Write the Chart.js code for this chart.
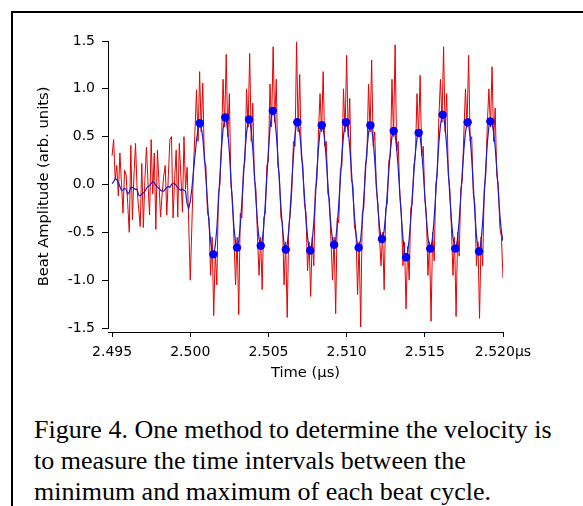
<!DOCTYPE html>
<html>
<head>
<meta charset="utf-8">
<script src="https://cdn.jsdelivr.net/npm/chart.js@4.4.1/dist/chart.umd.min.js"></script>
<style>
  html, body {
    margin: 0;
    padding: 0;
    background: #fff;
    width: 583px;
    height: 506px;
    overflow: hidden;
  }
  .frame {
    position: absolute;
    left: 11px;
    top: 11px;
    width: 700px;
    height: 600px;
    border-left: 2px solid #000;
    border-top: 2px solid #000;
  }
  #chart {
    position: absolute;
    left: 0;
    top: 0;
  }
  .caption {
    position: absolute;
    left: 34px;
    top: 414px;
    font-family: "Liberation Serif", "Times New Roman", serif;
    font-size: 26px;
    line-height: 31px;
    color: #000;
    white-space: nowrap;
  }
</style>
</head>
<body>
<div class="frame"></div>
<canvas id="chart" width="583" height="400"></canvas>
<div class="caption">
  Figure 4. One method to determine the velocity is<br>
  to measure the time intervals between the<br>
  minimum and maximum of each beat cycle.
</div>

<script>
// sampling grid of the recorded trace (µs)
const sampleStart = 2.495;
const sampleStep = 0.0001;

// raw beat signal (red)
const rawSignal = [
  0.30, 0.47, 0.05, 0.20, -0.12, 0.33, 0.02, -0.30, 0.15, 0.10,
  -0.20, -0.50, 0.41, -0.37, 0.10, 0.43, -0.05, -0.25, -0.44, 0.22,
  -0.45, 0.05, 0.39, 0.00, -0.32, 0.47, -0.10, 0.33, -0.47, 0.36,
  0.02, -0.34, -0.10, 0.08, 0.20, -0.32, 0.10, 0.47, 0.50, -0.35,
  0.05, 0.36, -0.34, 0.43, 0.10, -0.29, 0.50, -0.05, 0.18, -0.40,
  -1.00, -0.45, 0.15, 0.55, 0.99, 0.45, 1.18, 0.55, 1.06, 0.25,
  0.20, -0.30, -0.35, -0.95, -0.55, -1.37, -0.70, -1.05, -0.10, 0.00,
  0.45, 1.10, 0.60, 1.36, 0.50, 0.95, 0.00, -0.15, -0.60, -1.05,
  -0.55, -1.36, -0.30, -0.35, 0.15, 0.25, 1.00, 0.60, 1.37, 0.45,
  0.85, 0.05, -0.05, -0.55, -0.95, -0.55, -1.10, -0.35, -0.30, 0.20,
  0.25, 1.05, 0.60, 1.44, 0.65, 1.10, 0.20, 0.10, -0.35, -0.40,
  -1.05, -0.60, -1.39, -0.45, -0.30, -0.05, 0.45, 0.40, 1.49, 0.55,
  1.15, 0.30, 0.20, -0.20, -0.30, -0.90, -0.60, -1.17, -0.55, -0.85,
  -0.05, 0.05, 0.55, 0.95, 0.55, 1.18, 0.40, 0.45, -0.10, -0.15,
  -0.60, -1.00, -0.55, -1.35, -0.35, -0.40, 0.15, 0.20, 1.00, 0.55,
  1.35, 0.50, 0.90, 0.05, 0.00, -0.45, -0.50, -1.15, -0.60, -1.49,
  -0.30, -0.25, 0.20, 0.30, 1.05, 0.55, 1.30, 0.40, 0.55, -0.05,
  -0.20, -0.55, -0.85, -0.50, -1.10, -0.25, -0.20, 0.25, 0.30, 1.10,
  0.50, 1.46, 0.35, 0.45, -0.10, -0.30, -0.85, -0.60, -1.30, -0.65,
  -1.00, -0.25, -0.20, 0.20, 0.30, 0.95, 0.50, 1.14, 0.30, 0.40,
  -0.15, -0.30, -0.95, -0.60, -1.43, -0.50, -0.80, 0.00, 0.10, 0.70,
  1.10, 0.65, 1.44, 0.55, 0.95, 0.10, -0.05, -0.45, -0.95, -0.55,
  -1.38, -0.50, -0.75, -0.05, 0.05, 0.55, 1.00, 0.60, 1.35, 0.45,
  0.50, -0.10, -0.20, -0.85, -0.60, -1.40, -0.55, -0.85, -0.05, 0.10,
  0.65, 1.00, 0.60, 1.23, 0.45, 0.80, 0.10, 0.00, -0.45, -0.55,
  -0.98,
];

// smoothed signal (blue)
const smoothSignal = [
  0.01, 0.03, 0.06, 0.05, 0.02, -0.02, -0.06, -0.06, -0.04, -0.05,
  -0.10, -0.08, -0.03, -0.03, -0.04, -0.05, -0.05, -0.11, -0.12, -0.10,
  -0.09, -0.07, -0.04, -0.02, -0.01, 0.01, 0.03, 0.02, -0.01, -0.03,
  -0.04, -0.06, -0.07, -0.07, -0.05, -0.03, -0.02, -0.03, 0.00, 0.01,
  0.01, -0.01, -0.03, -0.05, -0.06, -0.05, -0.06, -0.07, -0.20, -0.25,
  -0.18, -0.05, 0.12, 0.30, 0.46, 0.58, 0.64, 0.60, 0.49, 0.30,
  0.07, -0.18, -0.41, -0.59, -0.70, -0.73, -0.64, -0.46, -0.19, 0.10,
  0.38, 0.58, 0.69, 0.68, 0.55, 0.34, 0.06, -0.22, -0.46, -0.61,
  -0.66, -0.59, -0.43, -0.19, 0.08, 0.34, 0.54, 0.66, 0.67, 0.57,
  0.37, 0.12, -0.16, -0.40, -0.57, -0.64, -0.59, -0.44, -0.20, 0.08,
  0.36, 0.59, 0.73, 0.77, 0.70, 0.53, 0.30, 0.03, -0.24, -0.46,
  -0.62, -0.68, -0.63, -0.48, -0.24, 0.04, 0.31, 0.52, 0.64, 0.64,
  0.54, 0.37, 0.13, -0.12, -0.36, -0.55, -0.67, -0.69, -0.59, -0.40,
  -0.14, 0.14, 0.38, 0.56, 0.63, 0.59, 0.46, 0.26, 0.01, -0.23,
  -0.44, -0.58, -0.63, -0.58, -0.42, -0.20, 0.06, 0.31, 0.51, 0.63,
  0.64, 0.56, 0.39, 0.16, -0.09, -0.33, -0.52, -0.64, -0.66, -0.57,
  -0.39, -0.14, 0.13, 0.37, 0.54, 0.62, 0.59, 0.46, 0.25, 0.00,
  -0.24, -0.44, -0.55, -0.56, -0.48, -0.31, -0.09, 0.15, 0.36, 0.50,
  0.56, 0.52, 0.38, 0.17, -0.09, -0.34, -0.56, -0.71, -0.76, -0.71,
  -0.57, -0.37, -0.12, 0.12, 0.34, 0.48, 0.54, 0.50, 0.35, 0.14,
  -0.12, -0.36, -0.55, -0.66, -0.66, -0.55, -0.35, -0.10, 0.18, 0.44,
  0.62, 0.72, 0.71, 0.60, 0.40, 0.15, -0.12, -0.37, -0.55, -0.66,
  -0.66, -0.56, -0.37, -0.13, 0.14, 0.37, 0.55, 0.64, 0.63, 0.50,
  0.27, -0.01, -0.29, -0.53, -0.67, -0.69, -0.59, -0.39, -0.11, 0.18,
  0.44, 0.61, 0.66, 0.64, 0.55, 0.39, 0.17, -0.08, -0.32, -0.50,
  -0.59,
];

// maxima and minima of each beat cycle (blue dots)
const peakTimes = [2.50061, 2.50224, 2.50376, 2.50528, 2.50685, 2.50841, 2.50996, 2.51152, 2.51301, 2.51461, 2.51614, 2.51774, 2.51919];
const peakValues = [0.64, 0.70, 0.68, 0.77, 0.65, 0.62, 0.65, 0.62, 0.56, 0.54, 0.73, 0.65, 0.66];
const troughTimes = [2.50148, 2.50299, 2.50451, 2.50611, 2.50767, 2.5092, 2.51077, 2.51226, 2.5138, 2.51535, 2.51695, 2.51847];
const troughValues = [-0.73, -0.66, -0.64, -0.68, -0.69, -0.63, -0.66, -0.57, -0.76, -0.67, -0.67, -0.70];

// axes
const xTicks = [2.495, 2.5, 2.505, 2.51, 2.515, 2.52];
const xTickLabels = ["2.495", "2.500", "2.505", "2.510", "2.515", "2.520\u00b5s"];
const yTicks = [-1.5, -1.0, -0.5, 0.0, 0.5, 1.0, 1.5];
const yTickLabels = ["-1.5", "-1.0", "-0.5", "0.0", "0.5", "1.0", "1.5"];

function toPoints(values) {
  return values.map((v, i) => ({
    x: +(sampleStart + i * sampleStep).toFixed(4),
    y: v,
  }));
}

function pairPoints(times, values) {
  return times.map((t, i) => ({ x: t, y: values[i] }));
}

const tickFont = { family: "DejaVu Sans", size: 14 };
const titleFont = { family: "DejaVu Sans", size: 14.7 };

// y axis line runs only between the end ticks, like the original
const yAxisLine = {
  id: "yAxisLine",
  afterDraw(chart) {
    const { ctx, chartArea } = chart;
    const y = chart.scales.y;
    const x = Math.round(chartArea.left) + 0.5;
    ctx.save();
    ctx.strokeStyle = "#000";
    ctx.lineWidth = 1;
    ctx.beginPath();
    ctx.moveTo(x, Math.round(y.getPixelForValue(yTicks[yTicks.length - 1])));
    ctx.lineTo(x, Math.round(y.getPixelForValue(yTicks[0])) + 1);
    ctx.stroke();
    ctx.restore();
  },
};

new Chart(document.getElementById("chart"), {
  type: "line",
  data: {
    datasets: [
      {
        label: "peaks",
        data: pairPoints(peakTimes, peakValues),
        showLine: false,
        pointRadius: 4.2,
        pointBorderWidth: 0,
        pointBackgroundColor: "#0000ff",
        borderColor: "#0000ff",
        order: 0,
      },
      {
        label: "troughs",
        data: pairPoints(troughTimes, troughValues),
        showLine: false,
        pointRadius: 4.2,
        pointBorderWidth: 0,
        pointBackgroundColor: "#0000ff",
        borderColor: "#0000ff",
        order: 0,
      },
      {
        label: "smoothed",
        data: toPoints(smoothSignal),
        borderColor: "#1c1cc8",
        borderWidth: 1.2,
        pointRadius: 0,
        tension: 0,
        order: 1,
      },
      {
        label: "raw",
        data: toPoints(rawSignal),
        borderColor: "rgb(228,0,0)",
        borderWidth: 1,
        pointRadius: 0,
        tension: 0,
        order: 2,
      },
    ],
  },
  options: {
    responsive: false,
    animation: false,
    devicePixelRatio: 1,
    layout: {
      padding: { top: 41, right: 80, bottom: 0, left: 0 },
    },
    plugins: {
      legend: { display: false },
      tooltip: { enabled: false },
    },
    scales: {
      x: {
        type: "linear",
        min: 2.49474,
        max: 2.52,
        afterFit(scale) {
          scale.height = 68;
        },
        afterBuildTicks(scale) {
          scale.ticks = xTicks.map((value) => ({ value }));
        },
        border: { display: true, color: "#000", width: 1 },
        grid: {
          drawOnChartArea: false,
          drawTicks: true,
          tickLength: 5,
          color: "#000",
        },
        ticks: {
          autoSkip: false,
          maxRotation: 0,
          padding: 7,
          color: "#000",
          font: tickFont,
          callback: (value, index) => xTickLabels[index],
        },
        title: {
          display: true,
          text: "Time (\u00b5s)",
          color: "#000",
          font: titleFont,
          padding: { top: 0, bottom: 18 },
        },
      },
      y: {
        type: "linear",
        min: -1.5418,
        max: 1.5,
        afterFit(scale) {
          scale.width = 108;
        },
        afterBuildTicks(scale) {
          scale.ticks = yTicks.map((value) => ({ value }));
        },
        border: { display: false },
        grid: {
          drawOnChartArea: false,
          drawTicks: true,
          tickLength: 6,
          color: "#000",
        },
        ticks: {
          autoSkip: false,
          padding: 7,
          color: "#000",
          font: tickFont,
          callback: (value, index) => yTickLabels[index],
        },
        title: {
          display: true,
          text: "Beat Amplitude (arb. units)",
          color: "#000",
          font: titleFont,
          padding: { top: 35, bottom: 0 },
        },
      },
    },
  },
  plugins: [yAxisLine],
});
</script>
</body>
</html>
